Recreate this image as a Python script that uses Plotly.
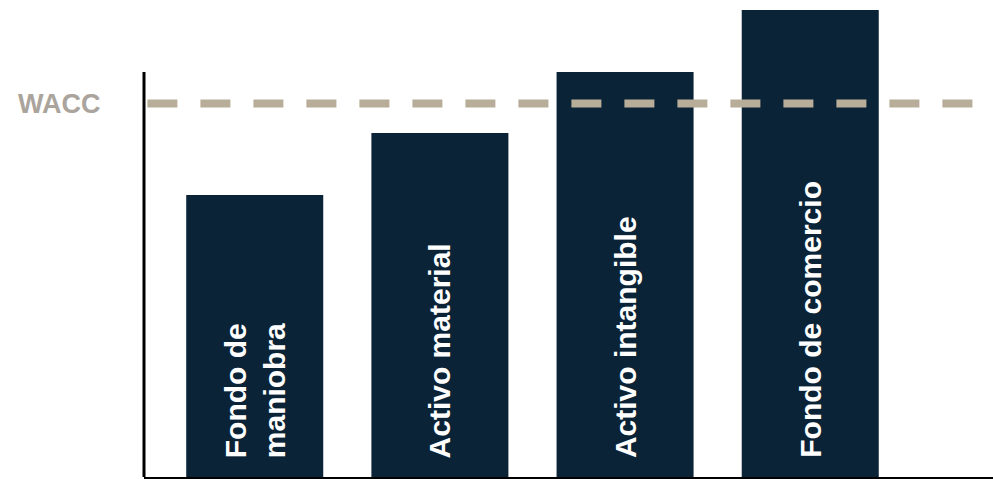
import plotly.graph_objects as go

categories = ["Fondo de maniobra", "Activo material", "Activo intangible", "Fondo de comercio"]
labels = ["Fondo de<br>maniobra", "Activo material", "Activo intangible", "Fondo de comercio"]
values = [59.1, 72.1, 84.9, 97.9]
wacc_value = 78.3
wacc_label = "WACC"

bar_color = "#0b2337"
wacc_color = "#b8ad98"
wacc_text_color = "#aaa49c"

fig = go.Figure()
fig.add_trace(go.Bar(
    x=categories, y=values, width=0.74,
    marker=dict(color=bar_color, line=dict(width=0)),
    hoverinfo="skip",
))

for cat, lab in zip(categories, labels):
    fig.add_annotation(
        x=cat, y=0, xref="x", yref="y", text=lab, textangle=-90,
        showarrow=False, xanchor="center", yanchor="bottom", yshift=17,
        align="center",
        font=dict(family="Liberation Sans, Arial, sans-serif", size=30, color="white", weight="bold"),
    )

# WACC dashed line
fig.add_shape(type="line", xref="paper", yref="y", x0=0.004, x1=1, y0=wacc_value, y1=wacc_value,
              line=dict(color=wacc_color, width=8, dash="30px,23px"), layer="above")
fig.add_annotation(
    x=0, y=wacc_value, xref="paper", yref="y", text=wacc_label, showarrow=False,
    xanchor="right", yanchor="middle", xshift=-41,
    font=dict(family="Liberation Sans, Arial, sans-serif", size=27, color=wacc_text_color, weight="bold"),
)

# partial y axis line
fig.add_shape(type="line", xref="paper", yref="y", x0=0, x1=0, y0=0, y1=values[2],
              line=dict(color="black", width=3), layer="above")

fig.update_layout(
    width=993, height=479,
    margin=dict(l=144, r=0, t=0, b=2),
    paper_bgcolor="white", plot_bgcolor="white",
    showlegend=False,
    bargap=0.26,
    hovermode=False,
    xaxis=dict(range=[-0.598, 3.987], showticklabels=False, ticks="", showgrid=False,
               zeroline=False, showline=True, linecolor="black", linewidth=3),
    yaxis=dict(range=[0, 100], showticklabels=False, ticks="", showgrid=False,
               zeroline=False, showline=False),
)

fig.write_html("out.html", config={"displayModeBar": False},
               post_script="document.body.style.margin='0';document.body.style.overflow='hidden';")
